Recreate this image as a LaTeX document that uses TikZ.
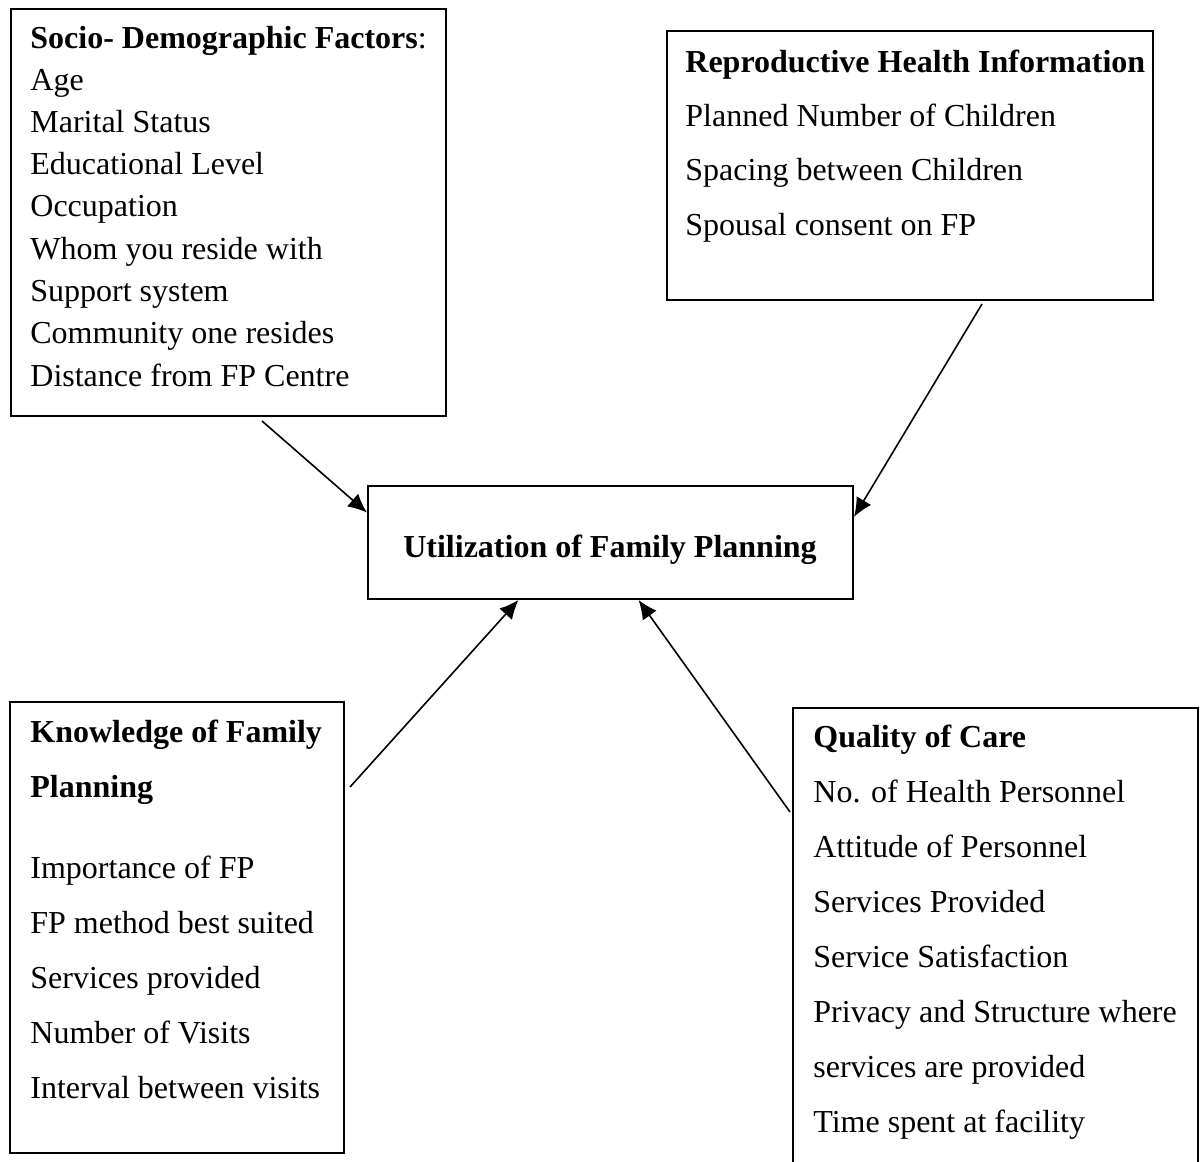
\documentclass[tikz,border=0pt]{standalone}
\usepackage{fontspec}
\setmainfont{Liberation Serif}
\usetikzlibrary{arrows.meta}
\begin{document}
\begin{tikzpicture}[x=0.5pt,y=-0.5pt,
  box/.style={draw, line width=1pt, rectangle, inner sep=0pt, anchor=north west},
  txt/.style={anchor=base west, inner sep=0pt, font=\fontsize{16}{19}\selectfont},
  hd/.style={txt, font=\fontsize{16}{19}\selectfont\bfseries},
  arr/.style={line width=0.8pt, -{Latex[length=9.5pt,width=8.5pt]}}]
\useasboundingbox (0,0) rectangle (1200,1162);
\clip (0,0) rectangle (1200,1162);
\fill[white] (0,0) rectangle (1200,1162);
% boxes
\node[box, minimum width=217.5pt, minimum height=203.5pt] (soc) at (10,8) {};
\node[box, minimum width=243pt, minimum height=134.5pt] (rep) at (666,30) {};
\node[box, minimum width=242.5pt, minimum height=56.5pt] (ctr) at (367,485) {};
\node[box, minimum width=167pt, minimum height=225.5pt] (kno) at (9,701) {};
\node[box, minimum width=202.5pt, minimum height=240pt] (qua) at (792,707) {};
% socio-demographic
\node[hd] (sh) at (30,48) {Socio- Demographic Factors\textmd{:}};
\foreach \t [count=\i] in {Age, Marital Status, Educational Level, Occupation, Whom you reside with, Support system, Community one resides, Distance from FP Centre}
  \node[txt] (s\i) at (30,{90+42.3*(\i-1)}) {\t};
% reproductive
\node[hd] (rh) at (685,72) {Reproductive Health Information};
\foreach \t [count=\i] in {Planned Number of Children, Spacing between Children, Spousal consent on FP}
  \node[txt] (r\i) at (685,{126+54.5*(\i-1)}) {\t};
% centre
\node[anchor=base, inner sep=0pt, font=\fontsize{16}{19}\selectfont\bfseries] (ct) at (610,557) {Utilization of Family Planning};
% knowledge
\node[hd] (kh1) at (30,742) {Knowledge of Family};
\node[hd] (kh2) at (30,797) {Planning};
\foreach \t [count=\i] in {Importance of FP, FP method best suited, Services provided, Number of Visits, Interval between visits}
  \node[txt] (k\i) at (30,{878+55*(\i-1)}) {\t};
% quality
\node[hd] (qh) at (813,747) {Quality of Care};
\foreach \t [count=\i] in {No. of Health Personnel, Attitude of Personnel, Services Provided, Service Satisfaction, Privacy and Structure where, services are provided, Time spent at facility}
  \node[txt] (q\i) at (813,{802+55*(\i-1)}) {\t};
% arrows
\coordinate (t1) at (262,421);
\coordinate (t2) at (982,304);
\coordinate (t3) at (350,787);
\coordinate (t4) at (790,812);
\draw[arr] (t1) -- (ctr.173.8);
\draw[arr] (t2) -- (ctr.6.7);
\draw[arr] (t3) -- (ctr.212);
\draw[arr] (t4) -- (ctr.296);
\end{tikzpicture}
\end{document}
